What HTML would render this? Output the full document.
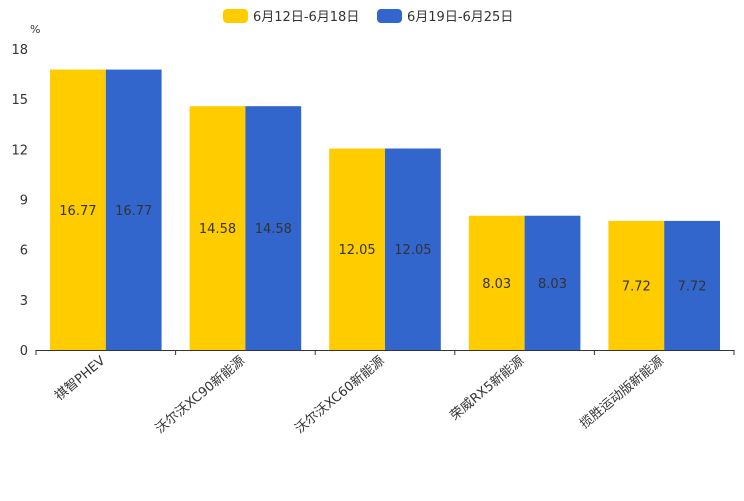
<!DOCTYPE html>
<html><head><meta charset="utf-8"><style>
html,body{margin:0;padding:0;background:#fff;}
svg text{font-family:"DejaVu Sans","Liberation Sans","Noto Sans CJK SC",sans-serif;}
</style></head><body>
<svg id="chart" width="744" height="496" xmlns="http://www.w3.org/2000/svg">
<g>
<g><rect x="223" y="9" width="25" height="14" rx="4" fill="#ffcc00"/><text x="253" y="21" font-size="13" fill="#333">6月12日-6月18日</text></g>
<g><rect x="377" y="9" width="25" height="14" rx="4" fill="#3366cc"/><text x="407" y="21" font-size="13" fill="#333">6月19日-6月25日</text></g>
</g>
<text x="30" y="33" font-size="11" fill="#333">%</text>
<g id="yaxis"></g>
<g id="bars"></g>
<g id="xaxis"></g>
</svg>
<script>
const categories=["祺智PHEV","沃尔沃XC90新能源","沃尔沃XC60新能源","荣威RX5新能源","揽胜运动版新能源"];
const series1=[16.77,14.58,12.05,8.03,7.72];
const series2=[16.77,14.58,12.05,8.03,7.72];
const yTicks=[0,3,6,9,12,15,18];
const NS="http://www.w3.org/2000/svg";
const x0=36,x1=734,y0=350,yTop=49,yMax=18;
const y=v=>y0-(y0-yTop)*v/yMax;
const bw=(x1-x0)/categories.length;
function mk(t,a,p){const e=document.createElementNS(NS,t);for(const k in a)e.setAttribute(k,a[k]);p.appendChild(e);return e;}
const ya=document.getElementById('yaxis'),ba=document.getElementById('bars'),xa=document.getElementById('xaxis');
yTicks.forEach(t=>{const tx=mk('text',{x:28,y:y(t)+5,'text-anchor':'end','font-size':13,fill:'#333'},ya);tx.textContent=t;

});
categories.forEach((c,i)=>{
const bx=x0+i*bw+14,w=(bw-28)/2;
[[series1,'#ffcc00'],[series2,'#3366cc']].forEach(([s,col],j)=>{
const v=s[i];const r=mk('rect',{x:bx+j*w,y:y(v),width:w,height:y0-y(v),fill:col},ba);


const t=mk('text',{x:bx+j*w+w/2,y:(y(v)+y0)/2+5,'text-anchor':'middle','font-size':13,fill:'#333'},ba);t.textContent=v.toFixed(2);

});
const cx=x0+i*bw+bw/2;
const l=mk('text',{x:cx,y:362,'text-anchor':'end','font-size':13,fill:'#333',transform:`rotate(-40 ${cx} 362)`},xa);l.textContent=c;


});
for(let i=0;i<=categories.length;i++){const tk=mk('line',{x1:x0+i*bw,x2:x0+i*bw,y1:y0,y2:y0+5,stroke:'#333'},xa);

}
const al=mk('line',{x1:x0,x2:x1,y1:y0+0.5,y2:y0+0.5,stroke:'#333'},xa);


</script>
</body></html>
